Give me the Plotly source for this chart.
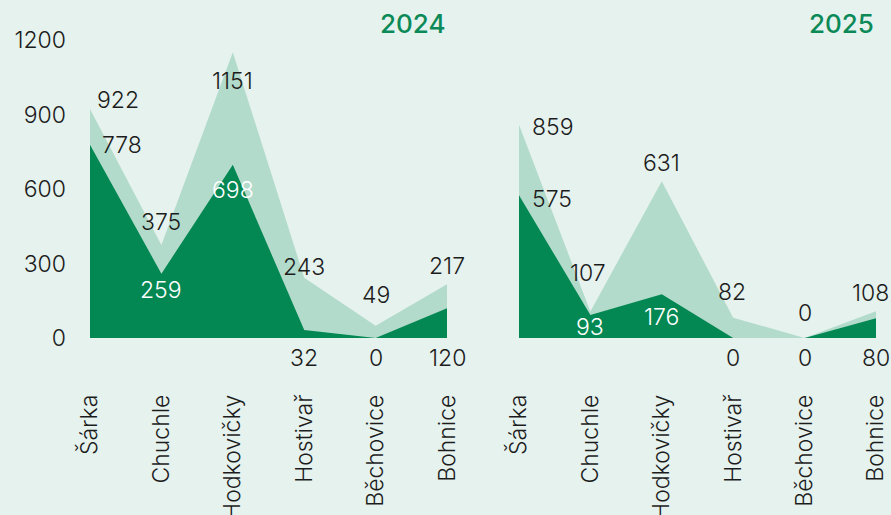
import plotly.graph_objects as go
from plotly.subplots import make_subplots

# data
categories = ["Šárka", "Chuchle", "Hodkovičky", "Hostivař", "Běchovice", "Bohnice"]
total_2024 = [922, 375, 1151, 243, 49, 217]
part_2024 = [778, 259, 698, 32, 0, 120]
total_2025 = [859, 107, 631, 82, 0, 108]
part_2025 = [575, 93, 176, 0, 0, 80]
years = ["2024", "2025"]
y_ticks = [0, 300, 600, 900, 1200]

LIGHT = "#B3DBCB"
DARK = "#038753"
BG = "#E6F2EE"
INK = "#1C1C1C"
FONT = "Inter, Roboto, sans-serif"
FS = 23

# label placement (pixel offsets from each point); "axis" = under the baseline
total_off = {
    "2024": [(28, 9), (0, 23), (0, -29), (0, 11), (0, 31), (0, 18)],
    "2025": [(34, -2), (-2, 38), (0, 18), (-1, 26), (0, 25), (-5, 18)],
}
part_off = {
    "2024": [(32, 0), (0, -16), (0, -25), "axis", "axis", "axis"],
    "2025": [(33, -4), (0, -12), (0, -23), "axis", "axis", "axis"],
}
part_white = {
    "2024": [False, True, True, False, False, False],
    "2025": [False, True, True, False, False, False],
}

fig = make_subplots(rows=1, cols=2, shared_yaxes=True, horizontal_spacing=0.0915)

series = {"2024": (total_2024, part_2024), "2025": (total_2025, part_2025)}
annotations = []
for col, yr in enumerate(years, start=1):
    tot, part = series[yr]
    fig.add_trace(go.Scatter(x=categories, y=tot, mode="lines", fill="tozeroy",
                             line=dict(width=0, color=LIGHT), fillcolor=LIGHT,
                             hoverinfo="skip", showlegend=False), row=1, col=col)
    fig.add_trace(go.Scatter(x=categories, y=part, mode="lines", fill="tozeroy",
                             line=dict(width=0, color=DARK), fillcolor=DARK,
                             hoverinfo="skip", showlegend=False), row=1, col=col)
    xr = "x" if col == 1 else "x2"
    yr_ref = "y" if col == 1 else "y2"
    for i, c in enumerate(categories):
        dx, dy = total_off[yr][i]
        annotations.append(dict(x=c, y=tot[i], xref=xr, yref=yr_ref, text=str(tot[i]),
                                showarrow=False, xshift=dx, yshift=dy,
                                font=dict(size=FS, color=INK, family=FONT, weight=300)))
        off = part_off[yr][i]
        if off == "axis":
            yv, dx, dy = 0, 0, -20
        else:
            yv = part[i]
            dx, dy = off
        annotations.append(dict(x=c, y=yv, xref=xr, yref=yr_ref, text=str(part[i]),
                                showarrow=False, xshift=dx, yshift=dy,
                                font=dict(size=FS, color="white" if part_white[yr][i] else INK,
                                          family=FONT, weight=300)))
    annotations.append(dict(x=1, y=1, xref=f"{xr} domain", yref="paper", text=yr,
                            xanchor="right", yanchor="middle", yshift=17, xshift=0,
                            showarrow=False,
                            font=dict(size=26, color="#0B8A58", family=FONT, weight=500)))

fig.update_xaxes(range=[0, 5], showgrid=False, zeroline=False, showline=False,
                 tickangle=-90, ticks="", ticklabelstandoff=51, automargin=False,
                 tickfont=dict(size=FS, color=INK, family=FONT, weight=300))
fig.update_yaxes(range=[0, 1200], showgrid=False, zeroline=False, showline=False,
                 tickvals=y_ticks, ticks="", ticklabelstandoff=23, automargin=False,
                 tickfont=dict(size=FS, color=INK, family=FONT, weight=300))
fig.update_yaxes(showticklabels=False, row=1, col=2)

fig.update_layout(
    width=891, height=515,
    margin=dict(l=90, r=15, t=40, b=177),
    paper_bgcolor=BG, plot_bgcolor=BG,
    annotations=annotations,
    font=dict(family=FONT, color=INK),
)

fig.write_html("out.html", config={"displayModeBar": False},
               post_script="document.body.style.margin='0';")
